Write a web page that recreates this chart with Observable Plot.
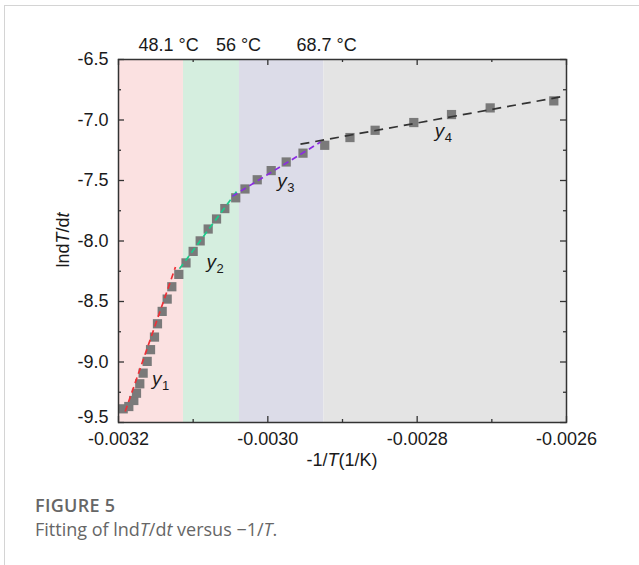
<!DOCTYPE html>
<html><head><meta charset="utf-8">
<script src="https://cdn.jsdelivr.net/npm/d3@7"></script>
<script src="https://cdn.jsdelivr.net/npm/@observablehq/plot@0.6"></script>
<style>
html,body{margin:0;padding:0;background:#fff;}
body{width:639px;height:565px;overflow:hidden;position:relative;font-family:"Liberation Sans",Arial,sans-serif;}
#frame{position:absolute;left:4px;top:5px;width:640px;height:570px;border-top:1px solid #d4d4d4;border-left:1px solid #d4d4d4;}
#chart{position:absolute;left:0;top:0;}
#cap{position:absolute;left:35px;top:493px;font-family:"Open Sans",sans-serif;color:#666;font-size:18px;line-height:24px;}
#cap .fig{font-weight:600;letter-spacing:0.3px;}
</style></head><body>
<div id="frame"></div>
<div id="chart"></div>
<div id="cap"><div class="fig">FIGURE 5</div><div>Fitting of lnd<i>T</i>/d<i>t</i> versus −1/<i>T</i>.</div></div>
<script>
// measured points: x = -1/T (1/K), y = ln dT/dt
const invT = [-0.0031937,-0.0031862,-0.0031795,-0.0031759,-0.0031715,-0.003167,-0.0031616,-0.0031571,-0.0031518,-0.0031478,-0.0031415,-0.0031348,-0.0031286,-0.0031192,-0.0031096,-0.0031,-0.0030906,-0.0030799,-0.0030687,-0.0030576,-0.003043,-0.0030306,-0.0030142,-0.0029955,-0.0029754,-0.0029529,-0.0029238,-0.00289,-0.0028563,-0.0028045,-0.002754,-0.0027022,-0.002617];
const lnRate = [-9.387,-9.368,-9.318,-9.258,-9.180,-9.092,-8.995,-8.898,-8.794,-8.684,-8.582,-8.480,-8.378,-8.276,-8.181,-8.086,-7.999,-7.901,-7.818,-7.732,-7.643,-7.570,-7.494,-7.418,-7.347,-7.274,-7.209,-7.145,-7.085,-7.021,-6.955,-6.900,-6.842];

// temperature regions
const bandStart = [-0.0032, -0.003113, -0.003038, -0.002925];
const bandEnd = [-0.003113, -0.003038, -0.002925, -0.0026];
const bandColors = ["#fbe1e1", "#d5eedf", "#dcdce8", "#e4e4e4"];
const tempLabels = ["48.1 °C", "56 °C", "68.7 °C"];
const tempLabelX = [-0.003133, -0.0030393, -0.0029214];

// fitted lines y1..y4
const fitNames = ["1", "2", "3", "4"];
const fitX1 = [-0.003191, -0.0031183, -0.0030477, -0.0029563];
const fitY1 = [-9.409, -8.230, -7.631, -7.200];
const fitX2 = [-0.0031237, -0.0030389, -0.0029295, -0.0026];
const fitY2 = [-8.215, -7.567, -7.182, -6.800];
const fitColors = ["#ee3037", "#19cc8c", "#8b2be2", "#333333"];
const fitLabelX = [-0.0031551, -0.0030821, -0.0029875, -0.0027764];
const fitLabelY = [-9.194, -8.225, -7.555, -7.140];

// ticks
const xTicks = [-0.0032, -0.0030, -0.0028, -0.0026];
const xMinor = [-0.0031, -0.0029, -0.0027];
const yTicks = [-6.5, -7.0, -7.5, -8.0, -8.5, -9.0, -9.5];
const yMinor = [-6.75, -7.25, -7.75, -8.25, -8.75, -9.25];

const points = invT.map((x, i) => ({x, y: lnRate[i]}));
const bands = bandStart.map((a, i) => ({a, b: bandEnd[i], c: bandColors[i]}));
const fits = fitNames.map((n, i) => ({n, x1: fitX1[i], y1: fitY1[i], x2: fitX2[i], y2: fitY2[i], c: fitColors[i], lx: fitLabelX[i], ly: fitLabelY[i]}));
const temps = tempLabels.map((t, i) => ({t, x: tempLabelX[i]}));

const X0 = -0.0032, X1 = -0.0026, Y0 = -9.5, Y1 = -6.5;
const axisColor = "#333";
const ink = "#1a1a1a";

const chart = Plot.plot({
  width: 639, height: 480,
  marginLeft: 118, marginRight: 73, marginTop: 59, marginBottom: 58,
  x: {domain: [X0, X1]},
  y: {domain: [Y0, Y1]},
  color: {type: "identity"},
  style: {fontFamily: "Liberation Sans, Arial, sans-serif", fontSize: "18px", color: ink, background: "transparent"},
  marks: [
    Plot.rect(bands, {x1: "a", x2: "b", fill: "c"}),
    Plot.dot(points, {x: "x", y: "y", symbol: "square", r: 5.2, fill: "#7a7a7a"}),
    Plot.link(fits.slice(0, 3), {x1: "x1", y1: "y1", x2: "x2", y2: "y2", stroke: "c", strokeWidth: 1.7, strokeDasharray: "6,4"}),
    Plot.link(fits.slice(3), {x1: "x1", y1: "y1", x2: "x2", y2: "y2", stroke: "c", strokeWidth: 1.7, strokeDasharray: "9,6"}),
    Plot.text(fits, {x: "lx", y: "ly", text: () => "y", fontStyle: "italic", textAnchor: "start", lineAnchor: "bottom", fontSize: 19, fill: ink}),
    Plot.text(fits, {x: "lx", y: "ly", text: "n", textAnchor: "start", lineAnchor: "bottom", fontSize: 13, dx: 10, dy: 5, fill: ink}),
    Plot.text(temps, {x: "x", text: "t", frameAnchor: "top", lineAnchor: "middle", dy: -14, fontSize: 18, fill: ink}),
    // inward ticks on all four sides
    Plot.ruleX(xTicks, {x: d => d, y1: Y0, y2: Y0, insetTop: -6, stroke: axisColor, strokeWidth: 1.3}),
    Plot.ruleX(xMinor, {x: d => d, y1: Y0, y2: Y0, insetTop: -3, stroke: axisColor, strokeWidth: 1.3}),
    Plot.ruleX(xTicks, {x: d => d, y1: Y1, y2: Y1, insetBottom: -6, stroke: axisColor, strokeWidth: 1.3}),
    Plot.ruleX(xMinor, {x: d => d, y1: Y1, y2: Y1, insetBottom: -3, stroke: axisColor, strokeWidth: 1.3}),
    Plot.ruleY(yTicks, {y: d => d, x1: X0, x2: X0, insetRight: -6, stroke: axisColor, strokeWidth: 1.3}),
    Plot.ruleY(yMinor, {y: d => d, x1: X0, x2: X0, insetRight: -3, stroke: axisColor, strokeWidth: 1.3}),
    Plot.ruleY(yTicks, {y: d => d, x1: X1, x2: X1, insetLeft: -6, stroke: axisColor, strokeWidth: 1.3}),
    Plot.ruleY(yMinor, {y: d => d, x1: X1, x2: X1, insetLeft: -3, stroke: axisColor, strokeWidth: 1.3}),
    Plot.frame({stroke: axisColor, strokeWidth: 1.5}),
    Plot.axisX(xTicks, {tickSize: 0, tickPadding: 10, tickFormat: d => d.toFixed(4), label: null, fontSize: 18, fill: ink}),
    Plot.axisY(yTicks.slice(0, -1), {tickSize: 0, tickPadding: 10, tickFormat: d => d.toFixed(1), label: null, fontSize: 18, fill: ink}),
    Plot.axisY(yTicks.slice(-1), {tickSize: 0, tickPadding: 10, dy: -5, tickFormat: d => d.toFixed(1), label: null, fontSize: 18, fill: ink})
  ]
});
document.getElementById("chart").appendChild(chart);

// axis titles with mixed italic
const svg = d3.select(chart);
const xt = svg.append("text").attr("x", (118 + 566) / 2).attr("y", 466)
  .attr("text-anchor", "middle").attr("font-size", 18).attr("fill", ink);
xt.append("tspan").text("-1/");
xt.append("tspan").attr("font-style", "italic").text("T");
xt.append("tspan").text("(1/K)");
const yt = svg.append("text").attr("transform", "translate(63,240) rotate(-90)")
  .attr("text-anchor", "middle").attr("dy", "0.35em").attr("font-size", 18).attr("fill", ink);
yt.append("tspan").text("lnd");
yt.append("tspan").attr("font-style", "italic").text("T");
yt.append("tspan").text("/d");
yt.append("tspan").attr("font-style", "italic").text("t");
</script>
</body></html>
